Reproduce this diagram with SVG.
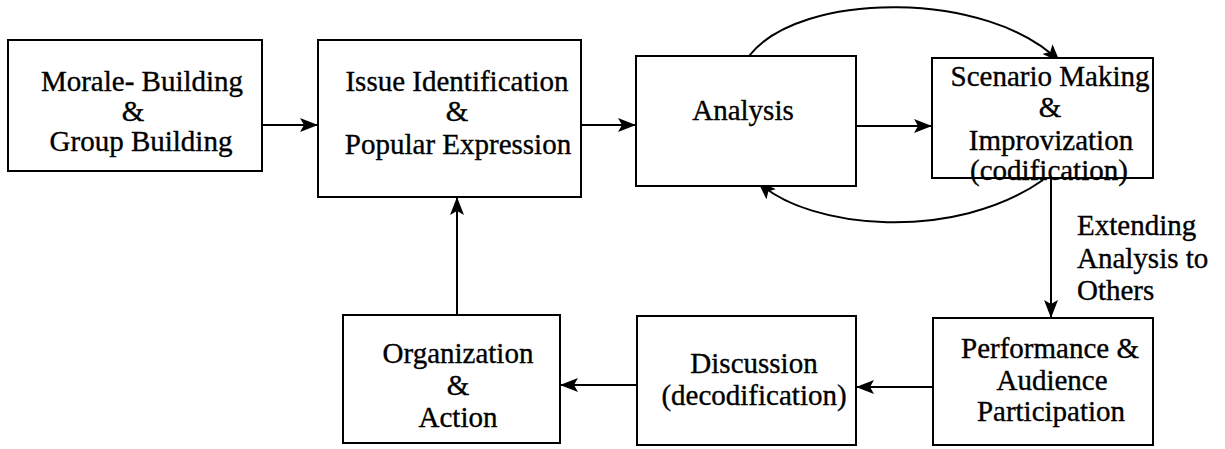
<svg xmlns="http://www.w3.org/2000/svg" width="1225" height="449" viewBox="0 0 1225 449">
<style>
.box{fill:#fff;stroke:#000;stroke-width:2}
.t{font-size:29px;fill:#000;stroke:#000;stroke-width:0.35;text-anchor:middle}
.l{font-size:29px;fill:#000;stroke:#000;stroke-width:0.35}
.c{fill:none;stroke:#000;stroke-width:2}
</style>
<defs>
<marker id="ah" markerUnits="userSpaceOnUse" markerWidth="20" markerHeight="14" refX="18" refY="7" orient="auto">
<path d="M0,0 L18,7 L0,14 L4,7 z" fill="#000"/>
</marker>
</defs>
<rect width="1225" height="449" fill="#fff"/>
<g id="connectors">
<line class="c" x1="262" y1="125" x2="318" y2="125" marker-end="url(#ah)"/>
<line class="c" x1="581" y1="125" x2="636" y2="125" marker-end="url(#ah)"/>
<line class="c" x1="856" y1="126" x2="932" y2="126" marker-end="url(#ah)"/>
<line class="c" x1="1051" y1="178" x2="1051" y2="318" marker-end="url(#ah)"/>
<line class="c" x1="933" y1="387" x2="856" y2="387" marker-end="url(#ah)"/>
<line class="c" x1="637" y1="385" x2="560" y2="385" marker-end="url(#ah)"/>
<line class="c" x1="457" y1="327" x2="457" y2="197" marker-end="url(#ah)"/>
<path class="c" d="M749,56 C800,-10 990,-10 1060,62" marker-end="url(#ah)"/>
<path class="c" d="M1043,180 C955,242 810,230 758,182" marker-end="url(#ah)"/>
</g>
<g font-family="'Liberation Serif', 'Times New Roman', 'DejaVu Serif', serif">
<g id="n1">
<rect class="box" x="8" y="40" width="254" height="131"/>
<text class="t" x="142" y="91">Morale- Building</text>
<text class="t" x="133" y="121">&amp;</text>
<text class="t" x="141" y="151">Group Building</text>
</g>
<g id="n2">
<rect class="box" x="318" y="40" width="263" height="157"/>
<text class="t" x="457" y="91">Issue Identification</text>
<text class="t" x="457" y="121">&amp;</text>
<text class="t" x="458" y="154">Popular Expression</text>
</g>
<g id="n3">
<rect class="box" x="636" y="56" width="220" height="130"/>
<text class="t" x="743" y="120">Analysis</text>
</g>
<g id="n4">
<rect class="box" x="932" y="58" width="221" height="120"/>
<text class="t" x="1050" y="86">Scenario Making</text>
<text class="t" x="1050" y="117">&amp;</text>
<text class="t" x="1051" y="150">Improvization</text>
<text class="t" x="1049" y="180">(codification)</text>
</g>
<g id="n5">
<rect class="box" x="933" y="318" width="220" height="127"/>
<text class="t" x="1050" y="358">Performance &amp;</text>
<text class="t" x="1052" y="390">Audience</text>
<text class="t" x="1051" y="421">Participation</text>
</g>
<g id="n6">
<rect class="box" x="637" y="316" width="219" height="129"/>
<text class="t" x="754" y="373">Discussion</text>
<text class="t" x="754" y="405">(decodification)</text>
</g>
<g id="n7">
<rect class="box" x="343" y="315" width="217" height="128"/>
<text class="t" x="458" y="363">Organization</text>
<text class="t" x="458" y="395">&amp;</text>
<text class="t" x="458" y="427">Action</text>
</g>
<g id="label">
<text class="l" x="1077" y="235">Extending</text>
<text class="l" x="1077" y="268">Analysis to</text>
<text class="l" x="1077" y="300">Others</text>
</g>
</g>
</svg>
